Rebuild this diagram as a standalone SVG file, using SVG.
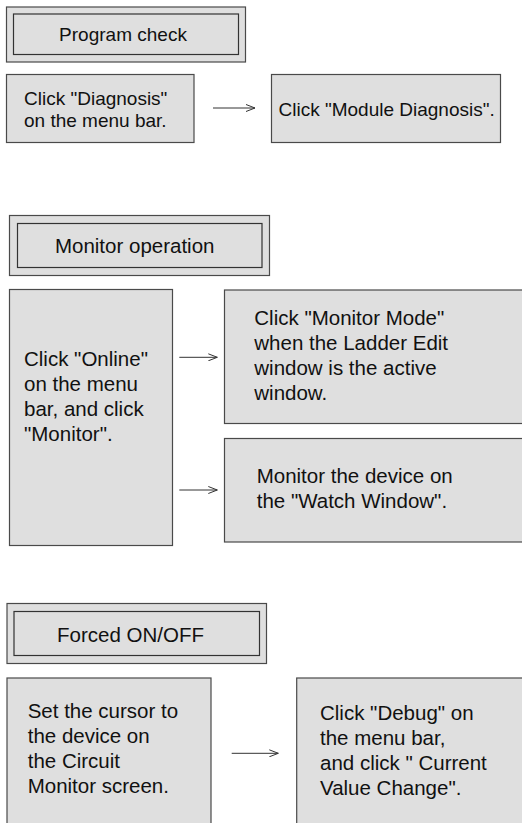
<svg xmlns="http://www.w3.org/2000/svg" width="522" height="823" viewBox="0 0 522 823">
<defs>
<style>
.box{fill:#dfdfdf;stroke:#4a4a4a;stroke-width:1.2}
.inner{fill:none;stroke:#333;stroke-width:1.2}
.t{font-family:"Liberation Sans",Arial,sans-serif;fill:#111}
.s19{font-size:19px}
.s20{font-size:20.5px}
.conn{stroke:#333;stroke-width:1;fill:none}
</style>
<marker id="arr" markerWidth="10" markerHeight="8" refX="9" refY="4" orient="auto" markerUnits="userSpaceOnUse">
<path d="M0,0.5 L9,4 L0,7.5" fill="none" stroke="#333" stroke-width="1"/>
</marker>
</defs>
<rect width="522" height="823" fill="#fff"/>

<g id="program-check">
<rect class="box" x="6.5" y="7" width="239" height="55"/>
<rect class="inner" x="13.5" y="14" width="225" height="40.5"/>
<text class="t s19" x="123" y="40.7" text-anchor="middle">Program check</text>
</g>
<g id="click-diagnosis">
<rect class="box" x="6.5" y="74.5" width="187.5" height="68"/>
<text class="t s19" x="24" y="105">Click "Diagnosis"</text>
<text class="t s19" x="24" y="126.7">on the menu bar.</text>
</g>
<g id="module-diagnosis">
<rect class="box" x="271.5" y="74.5" width="229" height="68"/>
<text class="t s19" x="278.5" y="116">Click "Module Diagnosis".</text>
</g>

<g id="monitor-operation">
<rect class="box" x="9.5" y="215.5" width="260" height="60"/>
<rect class="inner" x="17.5" y="223.5" width="244.5" height="44"/>
<text class="t s20" x="134.7" y="253.3" text-anchor="middle">Monitor operation</text>
</g>
<g id="click-online">
<rect class="box" x="9.5" y="289.5" width="163" height="256"/>
<text class="t s20" x="24" y="366">Click "Online"</text>
<text class="t s20" x="24" y="391">on the menu</text>
<text class="t s20" x="24" y="416">bar, and click</text>
<text class="t s20" x="24" y="441">"Monitor".</text>
</g>
<g id="monitor-mode">
<rect class="box" x="224.5" y="290" width="300" height="133.5"/>
<text class="t s20" x="254.3" y="325">Click "Monitor Mode"</text>
<text class="t s20" x="254.3" y="350">when the Ladder Edit</text>
<text class="t s20" x="254.3" y="375">window is the active</text>
<text class="t s20" x="254.3" y="400">window.</text>
</g>
<g id="watch-window">
<rect class="box" x="224.5" y="438.5" width="300" height="103.5"/>
<text class="t s20" x="256.7" y="483.3">Monitor the device on</text>
<text class="t s20" x="256.7" y="508.3">the "Watch Window".</text>
</g>

<g id="forced-onoff">
<rect class="box" x="7" y="603.5" width="259.5" height="60"/>
<rect class="inner" x="14" y="611.5" width="245.5" height="44"/>
<text class="t s20" x="130.5" y="641.7" text-anchor="middle">Forced ON/OFF</text>
</g>
<g id="set-cursor">
<rect class="box" x="7" y="678" width="204" height="150"/>
<text class="t s20" x="27.7" y="718.3">Set the cursor to</text>
<text class="t s20" x="27.7" y="743.3">the device on</text>
<text class="t s20" x="27.7" y="768.3">the Circuit</text>
<text class="t s20" x="27.7" y="793.3">Monitor screen.</text>
</g>
<g id="current-value-change">
<rect class="box" x="296.7" y="678" width="230" height="150"/>
<text class="t s20" x="320" y="720">Click "Debug" on</text>
<text class="t s20" x="320" y="745">the menu bar,</text>
<text class="t s20" x="320" y="770">and click " Current</text>
<text class="t s20" x="320" y="795">Value Change".</text>
</g>

<g id="connectors">
<line class="conn" x1="213" y1="108" x2="255" y2="108" marker-end="url(#arr)"/>
<line class="conn" x1="179.3" y1="357.3" x2="217.3" y2="357.3" marker-end="url(#arr)"/>
<line class="conn" x1="179.3" y1="490" x2="217.3" y2="490" marker-end="url(#arr)"/>
<line class="conn" x1="231.7" y1="753.3" x2="278.3" y2="753.3" marker-end="url(#arr)"/>
</g>
</svg>
